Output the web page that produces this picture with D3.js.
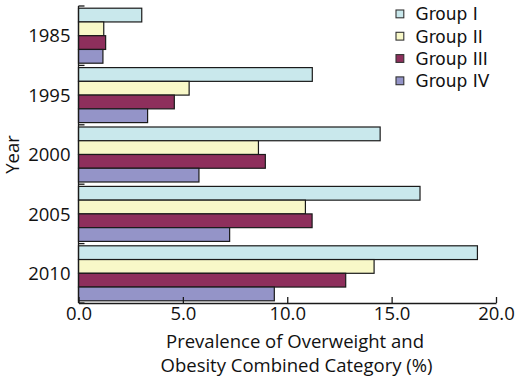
<!DOCTYPE html>
<html><head><meta charset="utf-8">
<script src="https://cdn.jsdelivr.net/npm/d3@7"></script>
<style>body{margin:0;background:#fff}svg{display:block}</style>
</head><body>
<script>
const years = ["1985","1995","2000","2005","2010"];
const groups = ["Group I","Group II","Group III","Group IV"];
const colors = ["#c9e8ec","#f8f8c8","#8e2f5c","#9494c8"];
const groupI   = [3.03, 11.2, 14.45, 16.36, 19.11];
const groupII  = [1.21, 5.3, 8.62, 10.87, 14.16];
const groupIII = [1.30, 4.59, 8.95, 11.19, 12.8];
const groupIV  = [1.17, 3.31, 5.77, 7.24, 9.38];
const xTicks = [0, 5, 10, 15, 20];
const series = [groupI, groupII, groupIII, groupIV];

const W = 515, H = 384;
const m = {left: 78.5, right: 19, top: 6, bottom: 81};
const svg = d3.select("body").append("svg").attr("width", W).attr("height", H);
const x = d3.scaleLinear().domain([0, 20]).range([m.left, W - m.right]);
const y = d3.scaleBand().domain(years).range([m.top, H - m.bottom]).paddingInner(0).paddingOuter(0);
const inner = d3.scaleBand().domain(groups).range([0, y.bandwidth()]).paddingOuter(0.16).paddingInner(0);

const tickFont = "'Open Sans', sans-serif";

// bars
years.forEach((yr, i) => {
  const g = svg.append("g").attr("transform", `translate(0,${y(yr)})`);
  groups.forEach((gr, j) => {
    g.append("rect")
      .attr("x", x(0))
      .attr("y", inner(gr))
      .attr("width", x(series[j][i]) - x(0))
      .attr("height", inner.bandwidth())
      .attr("fill", colors[j])
      .attr("stroke", "#1a1a1a")
      .attr("stroke-width", 1.2);
  });
});

// y axis
const yAxisG = svg.append("g").attr("transform", `translate(${m.left},0)`);
yAxisG.append("line").attr("x1", 0).attr("x2", 0).attr("y1", m.top).attr("y2", H - m.bottom)
  .attr("stroke", "#1a1a1a").attr("stroke-width", 1.3);
const yEdges = years.map(d => y(d)).concat([H - m.bottom]);
yEdges.forEach(v => {
  yAxisG.append("line").attr("x1", 0).attr("x2", 6).attr("y1", v).attr("y2", v)
    .attr("stroke", "#1a1a1a").attr("stroke-width", 1.3);
});
years.forEach(yr => {
  yAxisG.append("text").attr("x", -8).attr("y", y(yr) + y.bandwidth() / 2)
    .attr("dy", "0.36em").attr("text-anchor", "end")
    .attr("font-family", tickFont).attr("font-size", 18.5).attr("fill", "#111").text(yr);
});

// x axis
const xAxis = d3.axisBottom(x).tickValues(xTicks).tickFormat(d3.format(".1f")).tickSize(-6).tickPadding(4).tickSizeOuter(0);
const xg = svg.append("g").attr("transform", `translate(0,${H - m.bottom})`).call(xAxis);
xg.select(".domain").attr("stroke", "#1a1a1a").attr("stroke-width", 1.3);
xg.selectAll(".tick line").attr("stroke", "#1a1a1a").attr("stroke-width", 1.3);
xg.selectAll(".tick text").attr("font-family", tickFont).attr("font-size", 18.5).attr("fill", "#111").attr("dy", "0.71em");

// x title
const xt = svg.append("text").attr("text-anchor", "middle")
  .attr("font-family", tickFont).attr("font-size", 18.5).attr("fill", "#111");
xt.append("tspan").attr("x", 295).attr("y", 348).text("Prevalence of Overweight and");
xt.append("tspan").attr("x", 296.5).attr("y", 372).text("Obesity Combined Category (%)");

// y title
svg.append("text").attr("transform", `translate(19,${(m.top + H - m.bottom) / 2}) rotate(-90)`)
  .attr("text-anchor", "middle").attr("font-family", tickFont).attr("font-size", 18.5).attr("fill", "#111")
  .text("Year");

// legend
const lg = svg.append("g").attr("transform", "translate(396,10)");
groups.forEach((gr, j) => {
  const r = lg.append("g").attr("transform", `translate(0,${j * 22.3})`);
  r.append("rect").attr("x", 0).attr("y", 0).attr("width", 7.8).attr("height", 7.8)
    .attr("fill", colors[j]).attr("stroke", "#333").attr("stroke-width", 1.1);
  r.append("text").attr("x", 19.5).attr("y", 10.2)
    .attr("font-family", "'DejaVu Sans', Verdana, sans-serif").attr("font-size", 17).attr("fill", "#111").text(gr);
});
</script>
</body></html>
